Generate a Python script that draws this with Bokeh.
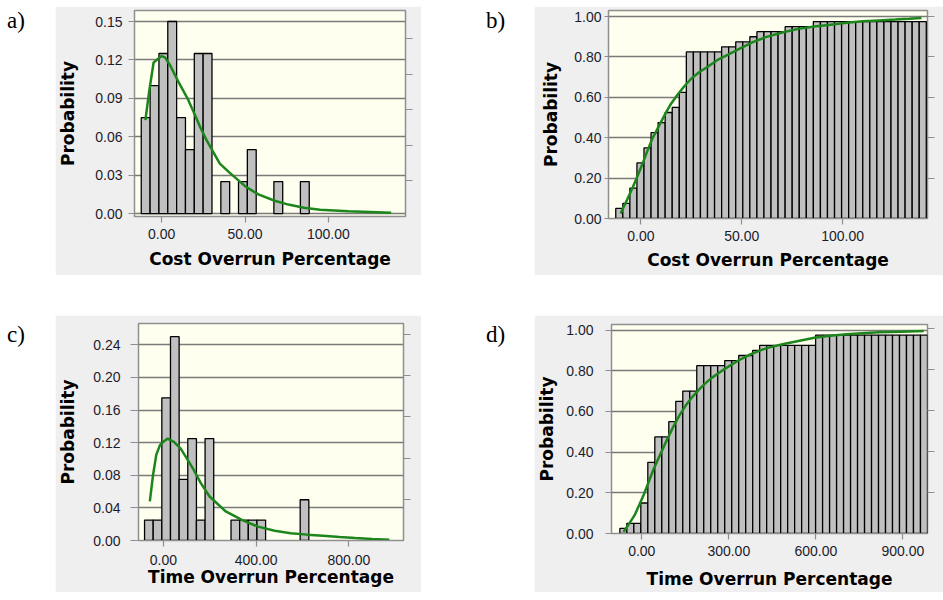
from bokeh.plotting import figure
from bokeh.models import (Range1d, LinearAxis, FixedTicker, NumeralTickFormatter, Div, Spacer,
                          CustomLabelingPolicy)
from bokeh.layouts import row, column
from bokeh.embed import file_html
from bokeh.resources import INLINE

# ---------------- data ----------------
# a) Cost overrun: probability histogram (non-empty bins) + fitted density
a_bin_left = [-12.2, -6.9, -1.6, 3.7, 9.0, 14.3, 19.6, 24.9, 35.5, 46.1, 51.4, 67.3, 83.2]
a_prob = [0.075, 0.100, 0.125, 0.150, 0.075, 0.050, 0.125, 0.125, 0.025, 0.025, 0.050, 0.025, 0.025]
a_bin_width = 5.3
a_fit_x = [-9.7, -7.5, -4.8, -2.0, 0.0, 2.0, 5.0, 10.0, 15.5, 20.0, 23.3, 27.1, 34.9, 40.7,
           50.4, 58.0, 67.8, 76.0, 85.3, 95.0, 112.0, 125.0, 137.6]
a_fit_y = [0.073, 0.095, 0.118, 0.121, 0.123, 0.122, 0.116, 0.103, 0.090, 0.077, 0.067, 0.057,
           0.039, 0.032, 0.021, 0.015, 0.010, 0.007, 0.0045, 0.003, 0.0018, 0.0012, 0.0006]

# b) Cost overrun: cumulative probability bars + fitted CDF
b_bin_start = -12.5
b_bin_width = 3.5
b_cum = [0.05, 0.075, 0.15, 0.275, 0.35, 0.425, 0.475, 0.525, 0.55, 0.625,
         0.825, 0.825, 0.825, 0.825, 0.825, 0.85, 0.85, 0.875, 0.875, 0.90,
         0.925, 0.925, 0.925, 0.925, 0.95, 0.95, 0.95, 0.95,
         0.975, 0.975, 0.975, 0.975, 0.975, 0.975, 0.975, 0.975,
         0.975, 0.975, 0.975, 0.975, 0.975, 0.975, 0.975, 0.975]
b_fit_x = [-10.1, -7.0, -4.0, -1.5, 0.8, 3.0, 5.6, 9.0, 12.1, 15.0, 18.5, 21.5, 24.9, 28.5,
           32.9, 38.0, 44.2, 50.0, 55.5, 61.9, 70.0, 78.0, 86.0, 94.0, 102.0, 110.1, 118.0,
           126.2, 133.0, 139.1]
b_fit_y = [0.025, 0.090, 0.156, 0.215, 0.272, 0.330, 0.395, 0.460, 0.519, 0.570, 0.618, 0.655,
           0.692, 0.722, 0.750, 0.785, 0.816, 0.846, 0.873, 0.898, 0.921, 0.939, 0.951, 0.960,
           0.969, 0.977, 0.981, 0.985, 0.989, 0.993]

# c) Time overrun: probability histogram (non-empty bins) + fitted density
c_bin_left = [-81.5, -44.2, -6.9, 30.4, 67.7, 105.0, 142.3, 179.6, 291.5, 328.8, 366.1, 403.4, 589.9]
c_prob = [0.025, 0.025, 0.175, 0.250, 0.075, 0.125, 0.025, 0.125, 0.025, 0.025, 0.025, 0.025, 0.050]
c_bin_width = 37.3
c_fit_x = [-58.7, -45.0, -31.0, -15.0, 0.0, 18.0, 45.0, 73.7, 100.0, 130.0, 160.0, 199.0, 269.0,
           340.0, 408.0, 480.0, 549.0, 620.0, 688.0, 760.0, 828.0, 900.0, 975.0]
c_fit_y = [0.048, 0.080, 0.105, 0.117, 0.121, 0.125, 0.121, 0.113, 0.101, 0.087, 0.071, 0.054,
           0.0356, 0.025, 0.017, 0.012, 0.009, 0.0072, 0.0058, 0.0042, 0.003, 0.0018, 0.001]

# d) Time overrun: cumulative probability bars + fitted CDF
d_bin_start = -75.5
d_bin_width = 24.1
d_cum = [0.025, 0.05, 0.05, 0.15, 0.35, 0.475, 0.475, 0.55, 0.65, 0.70,
         0.70, 0.825, 0.825, 0.825, 0.825, 0.85, 0.85, 0.875, 0.875, 0.90,
         0.925, 0.925, 0.925, 0.925, 0.925, 0.925, 0.925, 0.925,
         0.975, 0.975, 0.975, 0.975, 0.975, 0.975, 0.975, 0.975,
         0.975, 0.975, 0.975, 0.975, 0.975, 0.975, 0.975, 0.975]
d_fit_x = [-63.0, -45.0, -24.5, -8.0, 8.6, 25.0, 41.8, 64.0, 86.3, 108.0, 130.5, 152.0, 174.7,
           197.0, 219.0, 241.0, 263.0, 285.0, 307.0, 330.0, 352.0, 374.0, 396.0, 418.0, 440.0,
           485.0, 540.0, 595.0, 650.0, 706.0, 760.0, 817.0, 894.0, 972.0]
d_fit_y = [0.008, 0.045, 0.090, 0.143, 0.197, 0.258, 0.320, 0.390, 0.459, 0.523, 0.582, 0.630,
           0.672, 0.707, 0.738, 0.765, 0.787, 0.808, 0.828, 0.848, 0.865, 0.880, 0.893, 0.905,
           0.915, 0.930, 0.946, 0.962, 0.972, 0.979, 0.985, 0.989, 0.992, 0.995]

y_label = "Probability"
cost_label = "Cost Overrun Percentage"
time_label = "Time Overrun Percentage"

# ---------------- styling ----------------
PANEL_BG = "#efefef"
PLOT_BG = "#fffff0"
GRID = "#7a7a7a"
FRAME = "#8f8f8f"
BAR_FILL = "#c0c0c0"
GREEN = "#1c861c"
TICK_FONT = "Liberation Sans"
LABEL_FONT = "DejaVu Sans"
TXT = "#1c1c2c"

HIDE_LABELS = "for (const i of indices) indices.unset(i); return indices;"


def make_panel(width, height, borders, xr, yr, xticks, yticks, right_end, xlabel,
               ytick_out, ylab_stand, yaxis_stand, xlab_stand, xaxis_stand):
    bl, br, bt, bb = borders
    p = figure(width=width, height=height, output_backend="svg", toolbar_location=None,
               x_range=Range1d(*xr), y_range=Range1d(*yr),
               min_border_left=bl, min_border_right=br, min_border_top=bt, min_border_bottom=bb)
    p.background_fill_color = PLOT_BG
    p.border_fill_color = PANEL_BG
    p.outline_line_color = FRAME
    p.outline_line_width = 1.5
    p.xgrid.visible = False
    yt = FixedTicker(ticks=yticks)
    p.yaxis.ticker = yt
    p.ygrid.ticker = yt
    p.ygrid.grid_line_color = GRID
    p.ygrid.grid_line_width = 1.5
    p.xaxis.ticker = FixedTicker(ticks=xticks)
    for ax in (p.xaxis[0], p.yaxis[0]):
        ax.formatter = NumeralTickFormatter(format="0.00")
        ax.axis_line_color = FRAME
        ax.major_tick_line_color = FRAME
        ax.major_tick_line_width = 1.2
        ax.major_tick_in = 0
        ax.minor_tick_line_color = None
        ax.major_label_text_font = TICK_FONT
        ax.major_label_text_font_size = "14px"
        ax.major_label_text_color = TXT
        ax.axis_label_text_font = LABEL_FONT
        ax.axis_label_text_font_size = "17px"
        ax.axis_label_text_font_style = "bold"
        ax.axis_label_text_color = "#000000"
    p.yaxis.major_tick_out = ytick_out
    p.yaxis.major_label_standoff = ylab_stand
    p.yaxis.axis_label = y_label
    p.yaxis.axis_label_standoff = yaxis_stand
    p.xaxis.major_tick_out = 6
    p.xaxis.major_label_standoff = xlab_stand
    p.xaxis.axis_label = xlabel
    p.xaxis.axis_label_standoff = xaxis_stand
    # unlabeled secondary axis on the right (ticks only)
    p.extra_y_ranges = {"r": Range1d(0, right_end)}
    rax = LinearAxis(y_range_name="r", ticker=FixedTicker(ticks=[1, 2, 3, 4, 5]),
                     major_label_policy=CustomLabelingPolicy(code=HIDE_LABELS),
                     major_label_standoff=0,
                     major_tick_out=7, major_tick_in=0, axis_line_color=None,
                     major_tick_line_color=FRAME, minor_tick_line_color=None)
    p.add_layout(rax, "right")
    return p


def hist(p, lefts, heights, w):
    rights = [l + w for l in lefts]
    p.quad(left=lefts, right=rights, top=heights, bottom=0, fill_color=BAR_FILL,
           line_color="black", line_width=1.3)


def cum(p, start, w, heights):
    lefts = [start + i * w for i in range(len(heights))]
    rights = [l + w for l in lefts]
    p.quad(left=lefts, right=rights, top=heights, bottom=0, fill_color=BAR_FILL,
           line_color="black", line_width=1.3)


pa = make_panel(366, 269, (77, 9, 4, 59), (-16.25, 146.2), (-0.0023, 0.1586),
                [0, 50, 100], [0, 0.03, 0.06, 0.09, 0.12, 0.15], 5.79, cost_label,
                6, 6, 14, 6, 7)
hist(pa, a_bin_left, a_prob, a_bin_width)
pa.line(a_fit_x, a_fit_y, line_color=GREEN, line_width=2.5)

pb = make_panel(409, 269, (74, 7, 4, 57), (-16.1, 142.1), (0, 1.03),
                [0, 50, 100], [0, 0.2, 0.4, 0.6, 0.8, 1.0], 5.15, cost_label,
                4, 3, 10, 6, 6)
cum(pb, b_bin_start, b_bin_width, b_cum)
pb.line(b_fit_x, b_fit_y, line_color=GREEN, line_width=2.5)

pc = make_panel(366, 277, (75, 18, 8, 52), (-107.6, 1035.6), (0, 0.2661),
                [0, 400, 800], [0, 0.04, 0.08, 0.12, 0.16, 0.20, 0.24], 5.27, time_label,
                8, 10, 12, 8, -1)
hist(pc, c_bin_left, c_prob, c_bin_width)
pc.line(c_fit_x, c_fit_y, line_color=GREEN, line_width=2.5)

pd_ = make_panel(409, 277, (75, 6, 9, 59), (-104.3, 985.0), (0, 1.0275),
                 [0, 300, 600, 900], [0, 0.2, 0.4, 0.6, 0.8, 1.0], 5.1, time_label,
                 6, 12, 6, 6, 10)
cum(pd_, d_bin_start, d_bin_width, d_cum)
pd_.line(d_fit_x, d_fit_y, line_color=GREEN, line_width=2.5)


def tag(txt, width, height, pad_left, pad_top):
    html = ('<div style="font-family:\'Liberation Serif\',serif;font-size:23px;color:#000;'
            'padding-left:%dpx;padding-top:%dpx;line-height:1;">%s</div>' % (pad_left, pad_top, txt))
    return Div(text=html, width=width, height=height, margin=0)


def box(p):
    return column(p, spacing=0, margin=0)


top = row(tag("a)", 55, 269, 7, 3), box(pa), tag("b)", 113, 269, 65, 3), box(pb),
          spacing=0, margin=0)
bottom = row(tag("c)", 55, 277, 7, 8), box(pc), tag("d)", 113, 277, 65, 8), box(pd_),
             spacing=0, margin=0)
layout = column(Spacer(width=943, height=6, margin=0), top, Spacer(width=943, height=40, margin=0),
                bottom, spacing=0, margin=0)

open("out.html", "w").write(file_html(layout, INLINE))
